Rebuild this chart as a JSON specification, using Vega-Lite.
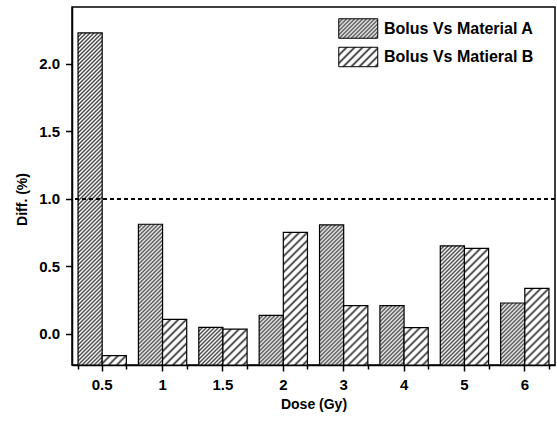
{
  "$schema": "https://vega.github.io/schema/vega-lite/v6.json",
  "width": 483,
  "height": 358,
  "autosize": "none",
  "padding": {"left": 72, "top": 7, "right": 2, "bottom": 61},
  "background": "white",
  "config": {
    "font": "Liberation Sans",
    "view": {"stroke": "black", "strokeWidth": 1.5},
    "axis": {
      "domainColor": "black", "domainWidth": 1.5,
      "tickColor": "black", "tickWidth": 1.5,
      "labelColor": "black", "labelFont": "Liberation Sans", "labelFontWeight": "bold", "labelFontSize": 15,
      "titleColor": "black", "titleFont": "Liberation Sans", "titleFontWeight": "bold", "titleFontSize": 14,
      "grid": false
    },
    "legend": {
      "labelFont": "Liberation Sans", "labelFontWeight": "bold", "labelFontSize": 16, "labelColor": "black"
    }
  },
  "params": [
    {"name": "stopsA", "value": [
      {"offset":0,"color":"#444"},{"offset":0.005,"color":"#fff"},{"offset":0.01,"color":"#444"},{"offset":0.015,"color":"#fff"},{"offset":0.02,"color":"#444"},{"offset":0.025,"color":"#fff"},{"offset":0.03,"color":"#444"},{"offset":0.035,"color":"#fff"},{"offset":0.04,"color":"#444"},{"offset":0.045,"color":"#fff"},
      {"offset":0.05,"color":"#444"},{"offset":0.055,"color":"#fff"},{"offset":0.06,"color":"#444"},{"offset":0.065,"color":"#fff"},{"offset":0.07,"color":"#444"},{"offset":0.075,"color":"#fff"},{"offset":0.08,"color":"#444"},{"offset":0.085,"color":"#fff"},{"offset":0.09,"color":"#444"},{"offset":0.095,"color":"#fff"},
      {"offset":0.1,"color":"#444"},{"offset":0.105,"color":"#fff"},{"offset":0.11,"color":"#444"},{"offset":0.115,"color":"#fff"},{"offset":0.12,"color":"#444"},{"offset":0.125,"color":"#fff"},{"offset":0.13,"color":"#444"},{"offset":0.135,"color":"#fff"},{"offset":0.14,"color":"#444"},{"offset":0.145,"color":"#fff"},
      {"offset":0.15,"color":"#444"},{"offset":0.155,"color":"#fff"},{"offset":0.16,"color":"#444"},{"offset":0.165,"color":"#fff"},{"offset":0.17,"color":"#444"},{"offset":0.175,"color":"#fff"},{"offset":0.18,"color":"#444"},{"offset":0.185,"color":"#fff"},{"offset":0.19,"color":"#444"},{"offset":0.195,"color":"#fff"},
      {"offset":0.2,"color":"#444"},{"offset":0.205,"color":"#fff"},{"offset":0.21,"color":"#444"},{"offset":0.215,"color":"#fff"},{"offset":0.22,"color":"#444"},{"offset":0.225,"color":"#fff"},{"offset":0.23,"color":"#444"},{"offset":0.235,"color":"#fff"},{"offset":0.24,"color":"#444"},{"offset":0.245,"color":"#fff"},
      {"offset":0.25,"color":"#444"},{"offset":0.255,"color":"#fff"},{"offset":0.26,"color":"#444"},{"offset":0.265,"color":"#fff"},{"offset":0.27,"color":"#444"},{"offset":0.275,"color":"#fff"},{"offset":0.28,"color":"#444"},{"offset":0.285,"color":"#fff"},{"offset":0.29,"color":"#444"},{"offset":0.295,"color":"#fff"},
      {"offset":0.3,"color":"#444"},{"offset":0.305,"color":"#fff"},{"offset":0.31,"color":"#444"},{"offset":0.315,"color":"#fff"},{"offset":0.32,"color":"#444"},{"offset":0.325,"color":"#fff"},{"offset":0.33,"color":"#444"},{"offset":0.335,"color":"#fff"},{"offset":0.34,"color":"#444"},{"offset":0.345,"color":"#fff"},
      {"offset":0.35,"color":"#444"},{"offset":0.355,"color":"#fff"},{"offset":0.36,"color":"#444"},{"offset":0.365,"color":"#fff"},{"offset":0.37,"color":"#444"},{"offset":0.375,"color":"#fff"},{"offset":0.38,"color":"#444"},{"offset":0.385,"color":"#fff"},{"offset":0.39,"color":"#444"},{"offset":0.395,"color":"#fff"},
      {"offset":0.4,"color":"#444"},{"offset":0.405,"color":"#fff"},{"offset":0.41,"color":"#444"},{"offset":0.415,"color":"#fff"},{"offset":0.42,"color":"#444"},{"offset":0.425,"color":"#fff"},{"offset":0.43,"color":"#444"},{"offset":0.435,"color":"#fff"},{"offset":0.44,"color":"#444"},{"offset":0.445,"color":"#fff"},
      {"offset":0.45,"color":"#444"},{"offset":0.455,"color":"#fff"},{"offset":0.46,"color":"#444"},{"offset":0.465,"color":"#fff"},{"offset":0.47,"color":"#444"},{"offset":0.475,"color":"#fff"},{"offset":0.48,"color":"#444"},{"offset":0.485,"color":"#fff"},{"offset":0.49,"color":"#444"},{"offset":0.495,"color":"#fff"},
      {"offset":0.5,"color":"#444"},{"offset":0.505,"color":"#fff"},{"offset":0.51,"color":"#444"},{"offset":0.515,"color":"#fff"},{"offset":0.52,"color":"#444"},{"offset":0.525,"color":"#fff"},{"offset":0.53,"color":"#444"},{"offset":0.535,"color":"#fff"},{"offset":0.54,"color":"#444"},{"offset":0.545,"color":"#fff"},
      {"offset":0.55,"color":"#444"},{"offset":0.555,"color":"#fff"},{"offset":0.56,"color":"#444"},{"offset":0.565,"color":"#fff"},{"offset":0.57,"color":"#444"},{"offset":0.575,"color":"#fff"},{"offset":0.58,"color":"#444"},{"offset":0.585,"color":"#fff"},{"offset":0.59,"color":"#444"},{"offset":0.595,"color":"#fff"},
      {"offset":0.6,"color":"#444"},{"offset":0.605,"color":"#fff"},{"offset":0.61,"color":"#444"},{"offset":0.615,"color":"#fff"},{"offset":0.62,"color":"#444"},{"offset":0.625,"color":"#fff"},{"offset":0.63,"color":"#444"},{"offset":0.635,"color":"#fff"},{"offset":0.64,"color":"#444"},{"offset":0.645,"color":"#fff"},
      {"offset":0.65,"color":"#444"},{"offset":0.655,"color":"#fff"},{"offset":0.66,"color":"#444"},{"offset":0.665,"color":"#fff"},{"offset":0.67,"color":"#444"},{"offset":0.675,"color":"#fff"},{"offset":0.68,"color":"#444"},{"offset":0.685,"color":"#fff"},{"offset":0.69,"color":"#444"},{"offset":0.695,"color":"#fff"},
      {"offset":0.7,"color":"#444"},{"offset":0.705,"color":"#fff"},{"offset":0.71,"color":"#444"},{"offset":0.715,"color":"#fff"},{"offset":0.72,"color":"#444"},{"offset":0.725,"color":"#fff"},{"offset":0.73,"color":"#444"},{"offset":0.735,"color":"#fff"},{"offset":0.74,"color":"#444"},{"offset":0.745,"color":"#fff"},
      {"offset":0.75,"color":"#444"},{"offset":0.755,"color":"#fff"},{"offset":0.76,"color":"#444"},{"offset":0.765,"color":"#fff"},{"offset":0.77,"color":"#444"},{"offset":0.775,"color":"#fff"},{"offset":0.78,"color":"#444"},{"offset":0.785,"color":"#fff"},{"offset":0.79,"color":"#444"},{"offset":0.795,"color":"#fff"},
      {"offset":0.8,"color":"#444"},{"offset":0.805,"color":"#fff"},{"offset":0.81,"color":"#444"},{"offset":0.815,"color":"#fff"},{"offset":0.82,"color":"#444"},{"offset":0.825,"color":"#fff"},{"offset":0.83,"color":"#444"},{"offset":0.835,"color":"#fff"},{"offset":0.84,"color":"#444"},{"offset":0.845,"color":"#fff"},
      {"offset":0.85,"color":"#444"},{"offset":0.855,"color":"#fff"},{"offset":0.86,"color":"#444"},{"offset":0.865,"color":"#fff"},{"offset":0.87,"color":"#444"},{"offset":0.875,"color":"#fff"},{"offset":0.88,"color":"#444"},{"offset":0.885,"color":"#fff"},{"offset":0.89,"color":"#444"},{"offset":0.895,"color":"#fff"},
      {"offset":0.9,"color":"#444"},{"offset":0.905,"color":"#fff"},{"offset":0.91,"color":"#444"},{"offset":0.915,"color":"#fff"},{"offset":0.92,"color":"#444"},{"offset":0.925,"color":"#fff"},{"offset":0.93,"color":"#444"},{"offset":0.935,"color":"#fff"},{"offset":0.94,"color":"#444"},{"offset":0.945,"color":"#fff"},
      {"offset":0.95,"color":"#444"},{"offset":0.955,"color":"#fff"},{"offset":0.96,"color":"#444"},{"offset":0.965,"color":"#fff"},{"offset":0.97,"color":"#444"},{"offset":0.975,"color":"#fff"},{"offset":0.98,"color":"#444"},{"offset":0.985,"color":"#fff"},{"offset":0.99,"color":"#444"},{"offset":0.995,"color":"#fff"},
      {"offset":1,"color":"#444"}
    ]},
    {"name": "stopsB", "value": [
      {"offset":0,"color":"#333"},{"offset":0.012,"color":"#fff"},{"offset":0.028,"color":"#fff"},
      {"offset":0.04,"color":"#333"},{"offset":0.052,"color":"#fff"},{"offset":0.068,"color":"#fff"},
      {"offset":0.08,"color":"#333"},{"offset":0.092,"color":"#fff"},{"offset":0.108,"color":"#fff"},
      {"offset":0.12,"color":"#333"},{"offset":0.132,"color":"#fff"},{"offset":0.148,"color":"#fff"},
      {"offset":0.16,"color":"#333"},{"offset":0.172,"color":"#fff"},{"offset":0.188,"color":"#fff"},
      {"offset":0.2,"color":"#333"},{"offset":0.212,"color":"#fff"},{"offset":0.228,"color":"#fff"},
      {"offset":0.24,"color":"#333"},{"offset":0.252,"color":"#fff"},{"offset":0.268,"color":"#fff"},
      {"offset":0.28,"color":"#333"},{"offset":0.292,"color":"#fff"},{"offset":0.308,"color":"#fff"},
      {"offset":0.32,"color":"#333"},{"offset":0.332,"color":"#fff"},{"offset":0.348,"color":"#fff"},
      {"offset":0.36,"color":"#333"},{"offset":0.372,"color":"#fff"},{"offset":0.388,"color":"#fff"},
      {"offset":0.4,"color":"#333"},{"offset":0.412,"color":"#fff"},{"offset":0.428,"color":"#fff"},
      {"offset":0.44,"color":"#333"},{"offset":0.452,"color":"#fff"},{"offset":0.468,"color":"#fff"},
      {"offset":0.48,"color":"#333"},{"offset":0.492,"color":"#fff"},{"offset":0.508,"color":"#fff"},
      {"offset":0.52,"color":"#333"},{"offset":0.532,"color":"#fff"},{"offset":0.548,"color":"#fff"},
      {"offset":0.56,"color":"#333"},{"offset":0.572,"color":"#fff"},{"offset":0.588,"color":"#fff"},
      {"offset":0.6,"color":"#333"},{"offset":0.612,"color":"#fff"},{"offset":0.628,"color":"#fff"},
      {"offset":0.64,"color":"#333"},{"offset":0.652,"color":"#fff"},{"offset":0.668,"color":"#fff"},
      {"offset":0.68,"color":"#333"},{"offset":0.692,"color":"#fff"},{"offset":0.708,"color":"#fff"},
      {"offset":0.72,"color":"#333"},{"offset":0.732,"color":"#fff"},{"offset":0.748,"color":"#fff"},
      {"offset":0.76,"color":"#333"},{"offset":0.772,"color":"#fff"},{"offset":0.788,"color":"#fff"},
      {"offset":0.8,"color":"#333"},{"offset":0.812,"color":"#fff"},{"offset":0.828,"color":"#fff"},
      {"offset":0.84,"color":"#333"},{"offset":0.852,"color":"#fff"},{"offset":0.868,"color":"#fff"},
      {"offset":0.88,"color":"#333"},{"offset":0.892,"color":"#fff"},{"offset":0.908,"color":"#fff"},
      {"offset":0.92,"color":"#333"},{"offset":0.932,"color":"#fff"},{"offset":0.948,"color":"#fff"},
      {"offset":0.96,"color":"#333"},{"offset":0.972,"color":"#fff"},{"offset":0.988,"color":"#fff"},
      {"offset":1,"color":"#333"}
    ]}
  ],
  "data": {
    "values": [
      {"dose": "0.5", "series": "Bolus Vs Material A", "diff": 2.228},
      {"dose": "0.5", "series": "Bolus Vs Matieral B", "diff": -0.16},
      {"dose": "1", "series": "Bolus Vs Material A", "diff": 0.812},
      {"dose": "1", "series": "Bolus Vs Matieral B", "diff": 0.108},
      {"dose": "1.5", "series": "Bolus Vs Material A", "diff": 0.049},
      {"dose": "1.5", "series": "Bolus Vs Matieral B", "diff": 0.035},
      {"dose": "2", "series": "Bolus Vs Material A", "diff": 0.138},
      {"dose": "2", "series": "Bolus Vs Matieral B", "diff": 0.751},
      {"dose": "3", "series": "Bolus Vs Material A", "diff": 0.807},
      {"dose": "3", "series": "Bolus Vs Matieral B", "diff": 0.209},
      {"dose": "4", "series": "Bolus Vs Material A", "diff": 0.209},
      {"dose": "4", "series": "Bolus Vs Matieral B", "diff": 0.047},
      {"dose": "5", "series": "Bolus Vs Material A", "diff": 0.652},
      {"dose": "5", "series": "Bolus Vs Matieral B", "diff": 0.633},
      {"dose": "6", "series": "Bolus Vs Material A", "diff": 0.229},
      {"dose": "6", "series": "Bolus Vs Matieral B", "diff": 0.337}
    ]
  },
  "layer": [
    {
      "mark": {
        "type": "bar", "stroke": "black", "strokeWidth": 1.2,
        "fill": {"expr": "{gradient:'linear',x1:0,y1:0,x2:(datum.series==='Bolus Vs Material A'?400.2:200.1)*bandwidth('xOffset')/(pow(bandwidth('xOffset'),2)+pow(scale('y',-0.23)-scale('y',datum.diff),2)),y2:(datum.series==='Bolus Vs Material A'?400.2:200.1)*(scale('y',-0.23)-scale('y',datum.diff))/(pow(bandwidth('xOffset'),2)+pow(scale('y',-0.23)-scale('y',datum.diff),2)),stops:datum.series==='Bolus Vs Material A'?stopsA:stopsB}"}
      },
      "encoding": {
        "x": {
          "field": "dose", "type": "ordinal",
          "sort": ["0.5", "1", "1.5", "2", "3", "4", "5", "6"],
          "scale": {"paddingInner": 0.2, "paddingOuter": 0.1},
          "axis": {"title": "Dose (Gy)", "labelAngle": 0, "tickSize": 6, "labelPadding": 6, "titlePadding": 5}
        },
        "xOffset": {"field": "series", "type": "nominal", "sort": ["Bolus Vs Material A", "Bolus Vs Matieral B"], "scale": {"paddingInner": 0, "paddingOuter": 0}},
        "y": {
          "field": "diff", "type": "quantitative",
          "scale": {"domain": [-0.23, 2.42], "nice": false, "zero": false},
          "axis": {
            "title": "Diff. (%)",
            "values": [0, 0.25, 0.5, 0.75, 1, 1.25, 1.5, 1.75, 2, 2.25],
            "format": ".1f",
            "labelExpr": "abs(datum.value*2 - round(datum.value*2)) > 0.01 ? '' : datum.label",
            "tickSize": {"condition": {"test": "abs(datum.value*2 - round(datum.value*2)) > 0.01", "value": 3.5}, "value": 6.5},
            "labelPadding": 6,
            "titlePadding": 9,
            "titleY": 192
          }
        },
        "y2": {"datum": -0.23}
      }
    },
    {
      "mark": {"type": "rule", "color": "black", "strokeWidth": 1, "strokeDash": [4, 3]},
      "encoding": {"y": {"datum": 1}}
    },
    {
      "mark": {"type": "bar", "opacity": 0, "stroke": "black", "strokeWidth": 1},
      "encoding": {
        "x": {
          "field": "dose", "type": "ordinal",
          "sort": ["0.5", "1", "1.5", "2", "3", "4", "5", "6"],
          "axis": {"orient": "top", "offset": -358, "tickSize": -4, "tickBand": "extent", "labels": false, "domain": false, "title": null}
        },
        "fill": {
          "field": "series", "type": "nominal",
          "sort": ["Bolus Vs Material A", "Bolus Vs Matieral B"],
          "scale": {"range": [
            {"expr": "{gradient:'linear',x1:0,y1:0,x2:8.21,y2:4.1,stops:stopsA}"},
            {"expr": "{gradient:'linear',x1:0,y1:0,x2:4.1,y2:2.05,stops:stopsB}"}
          ]},
          "legend": {
            "title": null,
            "orient": "none",
            "legendX": 266,
            "legendY": 11,
            "padding": 0,
            "symbolType": "M-1,-1H3V1H-1Z",
            "symbolSize": 380,
            "symbolStrokeColor": "black",
            "symbolStrokeWidth": 1,
            "symbolOpacity": 1,
            "labelOffset": 25,
            "rowPadding": 3.5
          }
        }
      }
    }
  ],
  "resolve": {"axis": {"x": "independent"}}
}
